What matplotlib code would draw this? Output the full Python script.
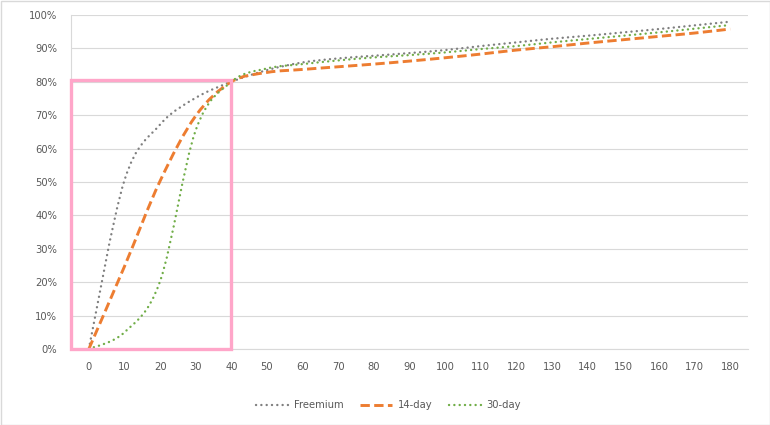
import matplotlib
matplotlib.use("Agg")
import matplotlib.pyplot as plt
from matplotlib.path import Path
from matplotlib.patches import PathPatch, Rectangle
from matplotlib.lines import Line2D
import numpy as np

days = [0, 10, 20, 30, 40, 50, 60, 70, 80, 90, 100, 110, 120, 130, 140, 150, 160, 170, 180]
freemium = [0, 50.5, 67.2, 75.2, 80, 83.5, 85.8, 87, 87.8, 88.6, 89.5, 90.7, 91.8, 92.9, 93.8, 94.8, 95.8, 96.9, 98]
day14 = [0, 24.7, 50.3, 69.8, 80, 82.8, 83.7, 84.5, 85.3, 86.2, 87.2, 88.3, 89.5, 90.5, 91.6, 92.6, 93.6, 94.6, 95.8]
day30 = [0, 5, 20.3, 65.5, 80, 84, 85.3, 86.4, 87.3, 88, 88.8, 89.8, 90.7, 91.8, 92.8, 93.8, 94.8, 95.9, 97]
series_names = ["Freemium", "14-day", "30-day"]
yticks = [0, 10, 20, 30, 40, 50, 60, 70, 80, 90, 100]

txt = "#595959"
grid = "#D9D9D9"

fig = plt.figure(figsize=(7.7, 4.25), dpi=100)
fig.patch.set_facecolor("white")
ax = fig.add_axes([71/770, (425-349)/425, 677/770, 334/425])

def smooth_path(xs, ys):
    pts = np.column_stack([xs, ys]).astype(float)
    n = len(pts)
    verts = [pts[0]]
    codes = [Path.MOVETO]
    for i in range(n - 1):
        p0 = pts[i - 1] if i > 0 else pts[i]
        p1 = pts[i]
        p2 = pts[i + 1]
        p3 = pts[i + 2] if i + 2 < n else pts[i + 1]
        c1 = p1 + (p2 - p0) / 6.0
        c2 = p2 - (p3 - p1) / 6.0
        verts += [c1, c2, p2]
        codes += [Path.CURVE4] * 3
    return Path(verts, codes)

xpos = np.arange(len(days))
styles = [
    dict(color="#7F7F7F", lw=1.7, ls=(0, (0.05, 2.2)), cap="round"),
    dict(color="#ED7D31", lw=2.1, ls=(0, (3.2, 1.5)), cap="butt"),
    dict(color="#70AD47", lw=1.7, ls=(0, (0.05, 2.2)), cap="round"),
]
handles = []
for vals, st, name in zip([freemium, day14, day30], styles, series_names):
    p = PathPatch(smooth_path(xpos, np.array(vals) / 100.0), fill=False,
                  edgecolor=st["color"], lw=st["lw"], linestyle=st["ls"],
                  capstyle=st["cap"], zorder=3)
    ax.add_patch(p)
    handles.append(Line2D([0], [0], color=st["color"], lw=st["lw"],
                          linestyle=st["ls"], dash_capstyle=st["cap"], label=name))

ax.set_xlim(-0.5, len(days) - 0.5)
ax.set_ylim(0, 1.0)
ax.set_xticks(xpos)
ax.set_xticklabels([str(d) for d in days])
ax.set_yticks([v / 100 for v in yticks])
ax.set_yticklabels([f"{v}%" for v in yticks])
ax.tick_params(axis="both", length=0, labelsize=7.2, labelcolor=txt)
ax.tick_params(axis="x", pad=9)
ax.tick_params(axis="y", pad=10)
ax.grid(axis="y", color=grid, lw=0.8)
ax.set_axisbelow(True)
for s in ["top", "right"]:
    ax.spines[s].set_visible(False)
ax.spines["left"].set_color(grid)
ax.spines["bottom"].set_color(grid)
ax.spines["left"].set_linewidth(0.8)
ax.spines["bottom"].set_linewidth(0.8)

# highlight rectangle
rect = Rectangle((-0.5, 0), 4.5, 0.805, fill=False, edgecolor="#FFA6C9", lw=2.4,
                 zorder=4, clip_on=False)
ax.add_patch(rect)

leg = fig.legend(handles=handles, loc="center", bbox_to_anchor=(0.505, 0.047), ncol=3,
                 frameon=False, fontsize=7.2, handlelength=3.2, columnspacing=1.6,
                 handletextpad=0.6)
for t in leg.get_texts():
    t.set_color(txt)

# outer border
fig.add_artist(Rectangle((0.5/770, 0.5/425), 1 - 1/770, 1 - 1/425, transform=fig.transFigure,
                         fill=False, edgecolor="#D9D9D9", lw=1))

fig.savefig("out.png", dpi=100, facecolor="white")
